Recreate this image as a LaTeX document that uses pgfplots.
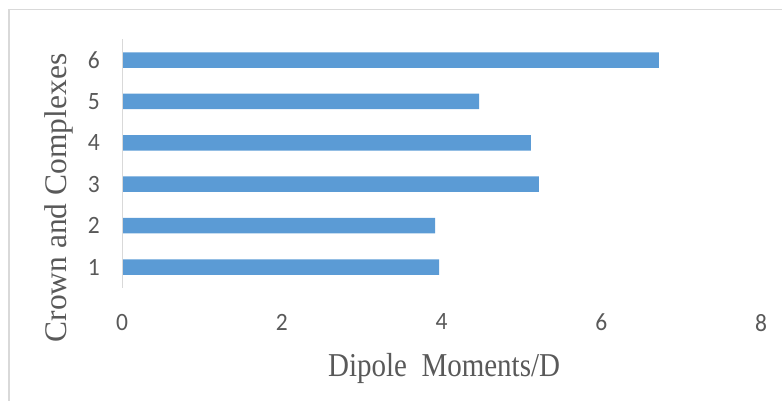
\documentclass[border=0pt]{standalone}
\usepackage{fontspec}
\setmainfont{Liberation Serif}
\newfontfamily\carlito{Carlito}
\usepackage{pgfplots}
\pgfplotsset{compat=1.18}

\definecolor{barblue}{HTML}{5B9BD5}
\definecolor{framegray}{HTML}{D9D9D9}
\definecolor{textgray}{HTML}{595959}

\begin{document}
\begin{tikzpicture}
\useasboundingbox (0,0) rectangle (782bp,401bp);
\clip (0,0) rectangle (782bp,401bp);
% chart frame
\draw[line width=1.5bp, framegray] (9bp,-20bp) -- (9bp,391.5bp) -- (820bp,391.5bp);
\begin{axis}[
  at={(122bp,113.3bp)}, anchor=south west,
  scale only axis,
  width=639bp, height=248.4bp,
  xbar, bar width=15.5bp,
  xmin=0, xmax=8, ymin=0.5, ymax=6.5,
  xtick={0,2,4,6,8}, ytick={1,2,3,4,5,6},
  axis line style={draw=none},
  major tick length=0pt,
  /pgf/number format/assume math mode=true,
  tick label style={font=\carlito\fontsize{23.5bp}{28bp}\selectfont, text=textgray, inner sep=0pt, yscale=1.06},
  yticklabel style={anchor=east, xshift=-22bp},
  xticklabel style={anchor=north, yshift=-24.6bp},
  xlabel={Dipole\ \ Moments/D},
  ylabel={Crown and Complexes},
  label style={text=textgray, inner sep=0pt},
  x label style={font=\fontsize{29bp}{35bp}\selectfont, yscale=1.15, at={(axis description cs:0.504,-0.3555)}, anchor=base},
  y label style={font=\fontsize{31.5bp}{38bp}\selectfont, at={(axis description cs:-0.0861,0.361)}, anchor=base},
]
\addplot[draw=none, fill=barblue] coordinates {
  (3.97,1) (3.92,2) (5.22,3) (5.12,4) (4.47,5) (6.72,6)
};
\draw[line width=1.5bp, framegray] (axis cs:0,0.5) -- (axis cs:0,6.5);
\end{axis}
\end{tikzpicture}
\end{document}
